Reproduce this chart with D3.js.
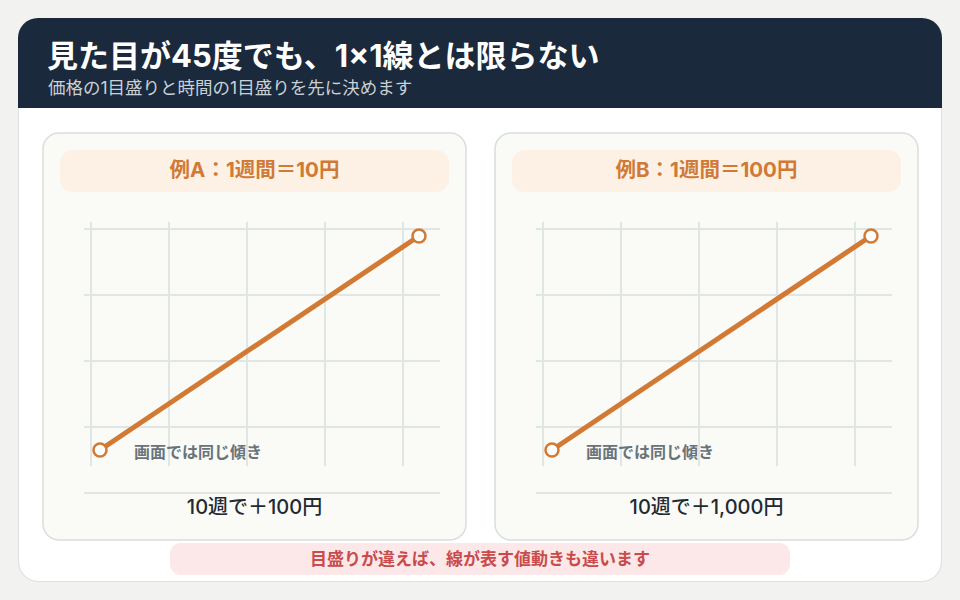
<!DOCTYPE html>
<html><head><meta charset="utf-8">
<script src="https://cdn.jsdelivr.net/npm/d3@7"></script>
<style>
html,body{margin:0;padding:0;background:#f2f3f1;}
svg{display:block;font-family:Inter,"Noto Sans CJK JP","Noto Sans",sans-serif;}
</style></head>
<body>
<script>
const title = "見た目が45度でも、1×1線とは限らない";
const subtitle = "価格の1目盛りと時間の1目盛りを先に決めます";
const panelTitles = ["例A：1週間＝10円", "例B：1週間＝100円"];
const panelNotes = ["10週で＋100円", "10週で＋1,000円"];
const slopeLabel = "画面では同じ傾き";
const footer = "目盛りが違えば、線が表す値動きも違います";
const weeks = [0, 10];
const pricesA = [0, 100];
const pricesB = [0, 1000];
const series = [pricesA, pricesB];
const gridCols = [0, 1, 2, 3, 4];
const gridRows = [0, 1, 2, 3];

const W = 960, H = 600;
const svg = d3.select("body").append("svg").attr("width", W).attr("height", H);

svg.append("rect").attr("x", 18.5).attr("y", 18.5).attr("width", 923).attr("height", 563)
  .attr("rx", 20).attr("fill", "#ffffff").attr("stroke", "#dde3df").attr("stroke-width", 1.2);
const hdr = d3.path();
const hx = 18, hy = 18, hw = 924, hh = 90, r = 20;
hdr.moveTo(hx, hy + hh); hdr.lineTo(hx, hy + r);
hdr.arcTo(hx, hy, hx + r, hy, r); hdr.lineTo(hx + hw - r, hy);
hdr.arcTo(hx + hw, hy, hx + hw, hy + r, r); hdr.lineTo(hx + hw, hy + hh); hdr.closePath();
svg.append("path").attr("d", hdr.toString()).attr("fill", "#1a293b");
svg.append("text").attr("x", 47).attr("y", 67).attr("fill", "#ffffff")
  .attr("font-size", 31).attr("font-weight", 700).text(title);
svg.append("text").attr("x", 48).attr("y", 94).attr("fill", "#c9d0d6")
  .attr("font-size", 17.5).text(subtitle);

function panel(i, ox) {
  const g = svg.append("g").attr("transform", `translate(${ox},0)`);
  g.append("rect").attr("x", 43).attr("y", 133).attr("width", 423).attr("height", 407)
    .attr("rx", 16).attr("fill", "#fafaf7").attr("stroke", "#d6dfdc").attr("stroke-width", 1.5);
  g.append("rect").attr("x", 60).attr("y", 150).attr("width", 389).attr("height", 42)
    .attr("rx", 13).attr("fill", "#fdf0e4");
  g.append("text").attr("x", 254.5).attr("y", 177).attr("text-anchor", "middle")
    .attr("fill", "#d07a35").attr("font-size", 20.5).attr("font-weight", 700).text(panelTitles[i]);

  const gx = d3.scaleLinear().domain([0, 4]).range([91, 403]);
  const gy = d3.scaleLinear().domain([0, 3]).range([229, 427]);
  g.selectAll(".vg").data(gridCols).join("line")
    .attr("x1", d => gx(d)).attr("x2", d => gx(d)).attr("y1", 222).attr("y2", 466)
    .attr("stroke", "#dfe6e4").attr("stroke-width", 2);
  g.selectAll(".hg").data(gridRows).join("line")
    .attr("x1", 84).attr("x2", 440).attr("y1", d => gy(d)).attr("y2", d => gy(d))
    .attr("stroke", "#dfe6e4").attr("stroke-width", 2);
  g.append("line").attr("x1", 84).attr("x2", 440).attr("y1", 493).attr("y2", 493)
    .attr("stroke", "#dfe6e4").attr("stroke-width", 2);

  const vals = series[i];
  const x = d3.scaleLinear().domain([0, 10]).range([100, 419]);
  const y = d3.scaleLinear().domain([0, d3.max(vals)]).range([450, 236]);
  const pts = weeks.map((w, k) => [w, vals[k]]);
  g.append("path").datum(pts)
    .attr("d", d3.line().x(d => x(d[0])).y(d => y(d[1])))
    .attr("fill", "none").attr("stroke", "#d27a34").attr("stroke-width", 5).attr("stroke-linecap", "round");
  g.selectAll(".pt").data(pts).join("circle")
    .attr("cx", d => x(d[0])).attr("cy", d => y(d[1])).attr("r", 6.5)
    .attr("fill", "#ffffff").attr("stroke", "#d27a34").attr("stroke-width", 2.5);

  g.append("text").attr("x", 134).attr("y", 458).attr("fill", "#69737a")
    .attr("font-size", 16).attr("font-weight", 700).text(slopeLabel);
  g.append("text").attr("x", 254.5).attr("y", 514).attr("text-anchor", "middle")
    .attr("fill", "#1f2a33").attr("font-size", 20).attr("font-weight", 500).text(panelNotes[i]);
}
panel(0, 0);
panel(1, 452);

svg.append("rect").attr("x", 170).attr("y", 543).attr("width", 620).attr("height", 32)
  .attr("rx", 11).attr("fill", "#fce8e8");
svg.append("text").attr("x", 480).attr("y", 565).attr("text-anchor", "middle")
  .attr("fill", "#c94b4b").attr("font-size", 17).attr("font-weight", 700).text(footer);
</script>
</body></html>
